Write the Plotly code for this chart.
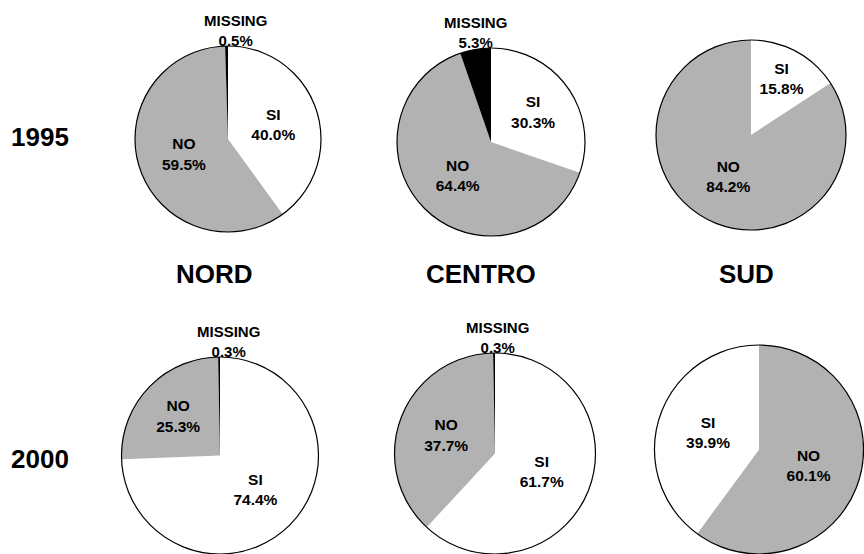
import plotly.graph_objects as go

W, H = 864, 554

regions = ["NORD", "CENTRO", "SUD"]
years = ["1995", "2000"]

labels_1995 = [["SI", "NO", "MISSING"], ["SI", "NO", "MISSING"], ["SI", "NO"]]
values_1995 = [[40.0, 59.5, 0.5], [30.3, 64.4, 5.3], [15.8, 84.2]]

labels_2000 = [["SI", "NO", "MISSING"], ["SI", "NO", "MISSING"], ["NO", "SI"]]
values_2000 = [[74.4, 25.3, 0.3], [61.7, 37.7, 0.3], [60.1, 39.9]]

colors = {"SI": "#ffffff", "NO": "#b2b2b2", "MISSING": "#000000"}

# pie placement in pixels: (center x, center y, radius, x-offset of the MISSING label)
geom_1995 = [(228, 139, 93, 7), (491, 142, 94, -16), (751, 135, 95, 0)]
geom_2000 = [(220, 455.5, 98.5, 8), (495, 453.5, 100.5, 2), (759, 449.5, 104.5, 0)]

FONT = "Liberation Sans, Arial, sans-serif"


def dom(cx, cy, r):
    x0 = max(0.0, (cx - r) / W)
    x1 = min(1.0, (cx + r) / W)
    y0 = max(0.0, 1 - (cy + r) / H)
    y1 = min(1.0, 1 - (cy - r) / H)
    return dict(x=[x0, x1], y=[y0, y1])


fig = go.Figure()
annotations = []

for labs_all, vals_all, geoms in [(labels_1995, values_1995, geom_1995),
                                  (labels_2000, values_2000, geom_2000)]:
    for labs, vals, g in zip(labs_all, vals_all, geoms):
        cx, cy, r, dx = g
        d = dom(cx, cy, r)
        fig.add_trace(go.Pie(
            labels=labs, values=vals, sort=False, direction="clockwise", rotation=0,
            domain=d,
            marker=dict(colors=[colors[l] for l in labs], line=dict(width=0)),
            texttemplate=["" if l == "MISSING" else "<b>%{label}<br>%{value:.1f}%</b>" for l in labs],
            textposition="inside",
            insidetextorientation="horizontal",
            textfont=dict(family=FONT, size=15.5, color="black"),
            showlegend=False, hoverinfo="skip",
        ))
        # outline
        fig.add_trace(go.Pie(
            values=[1], sort=False, domain=d, textinfo="none",
            marker=dict(colors=["rgba(0,0,0,0)"], line=dict(color="black", width=1.2)),
            showlegend=False, hoverinfo="skip",
        ))
        # outside label for the small MISSING slice
        for l, v in zip(labs, vals):
            if l == "MISSING":
                annotations.append(dict(
                    text="<b>%s<br>%.1f%%</b>" % (l, v),
                    x=(cx + dx) / W, y=1 - (cy - r + 5) / H,
                    xref="paper", yref="paper", showarrow=False,
                    xanchor="center", yanchor="bottom",
                    font=dict(family=FONT, size=15, color="black"),
                ))

region_x = [214, 481, 746]
for name, xp in zip(regions, region_x):
    annotations.append(dict(text="<b>%s</b>" % name, x=xp / W, y=1 - 274 / H,
                            xref="paper", yref="paper", showarrow=False,
                            font=dict(family=FONT, size=26, color="black"),
                            xanchor="center", yanchor="middle"))
for yr, yp in zip(years, [137, 459]):
    annotations.append(dict(text="<b>%s</b>" % yr, x=40 / W, y=1 - yp / H,
                            xref="paper", yref="paper", showarrow=False,
                            font=dict(family=FONT, size=26, color="black"),
                            xanchor="center", yanchor="middle"))

fig.update_layout(
    width=W, height=H,
    margin=dict(l=0, r=0, t=0, b=0),
    paper_bgcolor="white", plot_bgcolor="white",
    annotations=annotations,
)

fig.write_html("out.html", config={"displayModeBar": False},
               post_script="document.body.style.margin='0';document.body.style.overflow='hidden';")
